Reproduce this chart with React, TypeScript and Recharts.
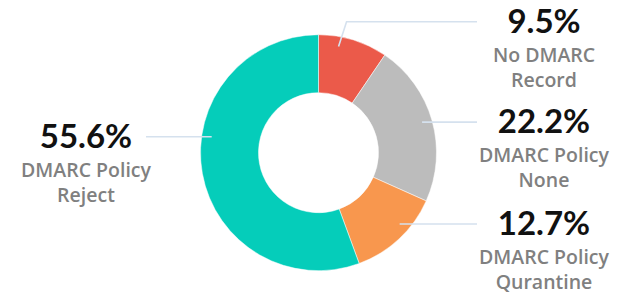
import { PieChart, Pie, Cell } from "recharts";

// DMARC policy share of domains
const categories = ["No DMARC Record", "DMARC Policy None", "DMARC Policy Qurantine", "DMARC Policy Reject"];
const shares = [9.5, 22.2, 12.7, 55.6];
const colors = ["#eb5a4a", "#bcbcbc", "#f8974e", "#05cdba"];

const data = categories.map((name, i) => ({ name, value: shares[i] }));

// label placement (leader start angle shift in degrees, optional row offset from the centre)
const labelLayout = [
    { shift: 6.4, row: -131 },
    { shift: 0.6 },
    { shift: 5.7 },
    { shift: -18.6 },
];

const RAD = Math.PI / 180;
const LINE_COLOR = "#d5e1ee";
const PCT_FONT = "Lato, 'Open Sans', sans-serif";
const NAME_FONT = "'Open Sans', Lato, sans-serif";

function splitName(name: string) {
    const k = name.lastIndexOf(" ");
    return [name.slice(0, k), name.slice(k + 1)];
}

function renderLabel(props: any) {
    const { cx, cy, midAngle, index, value, name } = props;
    const layout = labelLayout[index];
    const angle = midAngle + layout.shift;
    const r = 108;
    const sx = cx + r * Math.cos(-angle * RAD);
    const sy = cy + r * Math.sin(-angle * RAD);
    const right = Math.cos(-angle * RAD) >= 0;
    const rowY = layout.row !== undefined ? cy + layout.row : sy;
    const ex = right ? cx + 158.5 : cx - 172.5;
    const tx = right ? cx + 225.5 : cx - 232.5;
    const points = layout.row !== undefined
        ? `${sx},${sy} ${sx + 8},${rowY} ${ex},${rowY}`
        : `${sx},${sy} ${ex},${rowY}`;
    const [line1, line2] = splitName(name);
    return (
        <g key={`label-${index}`}>
            <polyline points={points} fill="none" stroke={LINE_COLOR} strokeWidth={1.6} />
            <text x={tx} y={rowY + 11} textAnchor="middle" fontFamily={PCT_FONT} fontWeight={700} fontSize={33} fill="#111">
                {`${Number(value).toFixed(1)}%`}
            </text>
            <text x={tx} y={rowY + 40} textAnchor="middle" fontFamily={NAME_FONT} fontWeight={600} fontSize={19.5} fill="#808080">
                {line1}
            </text>
            <text x={tx} y={rowY + 65} textAnchor="middle" fontFamily={NAME_FONT} fontWeight={600} fontSize={19.5} fill="#808080">
                {line2}
            </text>
        </g>
    );
}

export default function App() {
    return (
        <div style={{ position: "absolute", left: 0, top: 0, background: "#fff" }}>
            <PieChart width={637} height={306} margin={{ top: 0, right: 0, bottom: 0, left: 0 }}>
                <Pie
                    data={data}
                    dataKey="value"
                    nameKey="name"
                    cx={318.5}
                    cy={152.7}
                    innerRadius={60}
                    outerRadius={118}
                    startAngle={90}
                    endAngle={-270}
                    stroke="#fff"
                    strokeWidth={0.5}
                    label={renderLabel}
                    labelLine={false}
                    isAnimationActive={false}
                >
                    {data.map((d, i) => (
                        <Cell key={d.name} fill={colors[i]} />
                    ))}
                </Pie>
            </PieChart>
        </div>
    );
}
